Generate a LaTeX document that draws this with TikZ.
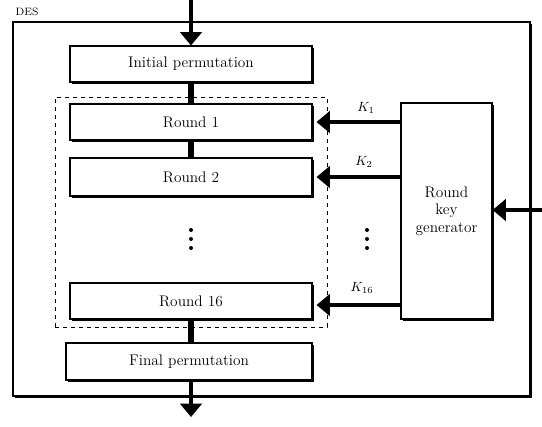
\documentclass[tikz,border=0pt]{standalone}
\usetikzlibrary{arrows.meta,shadows}

\tikzset{
  box/.style={draw, thick, fill=white, minimum width=181.5pt, minimum height=27pt,
    font=\fontsize{11.5}{13}\selectfont,
    drop shadow={shadow xshift=1.3pt, shadow yshift=-1.3pt, fill=black, opacity=1}},
  bigarrow/.style={line width=3.6pt, -{Triangle[length=10pt,width=16pt]}},
  link/.style={line width=5pt},
  klabel/.style={font=\normalsize},
  dot/.style={circle, fill, inner sep=0pt, minimum size=3pt},
}

\begin{document}
\begin{tikzpicture}[x=0.75pt, y=-0.75pt]
\useasboundingbox (0,0) rectangle (542,426);

% outer frame and the group of rounds
\node (des) [draw, thick, minimum width=387.75pt, minimum height=280.5pt,
  drop shadow={shadow xshift=1.3pt, shadow yshift=-1.3pt, fill=black, opacity=1}, fill=white] at (271.5,209) {};
\node (deslabel) [font=\footnotesize] at (27,12) {DES};
\node (rounds) [draw, dashed, minimum width=204pt, minimum height=172.5pt] at (191,212) {};

\node (ip) [box] at (191,64) {Initial permutation};
\node (r1) [box] at (191,122) {Round 1};
\node (r2) [box, minimum height=28.5pt] at (191,177) {Round 2};
\node (r16) [box] at (191,301) {Round 16};
\node (fp) [box, minimum width=184.5pt, minimum height=27.75pt] at (189,361.5) {Final permutation};

\node (kg) [box, minimum width=68.25pt, minimum height=162pt, align=center] at (446.5,211)
  {Round\\key\\generator};

\coordinate (in) at (191,0);
\coordinate (out) at (191,417);
\coordinate (kin) at (542,210);

\draw[bigarrow] (in) -- (ip.north);
\draw[link] (ip.south) -- (r1.north);
\draw[link] (r1.south) -- (r2.north);
\draw[link] (r16.south) -- (r16.south |- fp.north);
\draw[bigarrow] (fp.south -| out) -- (out);
\draw[bigarrow] (kin) -- (kg.east |- kin);

\draw[bigarrow] (kg.west |- r1.east) -- ([xshift=3pt]r1.east);
\draw[bigarrow] (kg.west |- r2.east) -- ([xshift=3pt]r2.east);
\draw[bigarrow] ([yshift=-3pt]kg.west |- r16.east) -- ([xshift=3pt,yshift=-3pt]r16.east);

\node (k1) [klabel] at (366,108) {$K_1$};
\node (k2) [klabel] at (364,162) {$K_2$};
\node (k16) [klabel] at (362,288) {$K_{16}$};

% vertical dots
\foreach \y in {230,239,248} {
  \node[dot] at (191,\y) {};
  \node[dot] at (367,\y) {};
}
\end{tikzpicture}
\end{document}
